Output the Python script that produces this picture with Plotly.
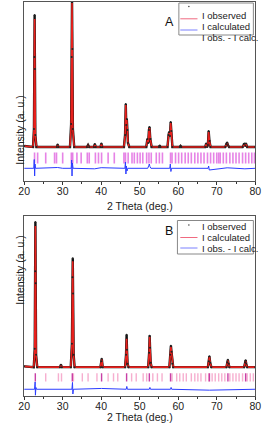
import plotly.graph_objects as go

# ---------------- Panel A data ----------------
tth_A = [20, 22.3, 22.55, 22.65, 22.72, 22.8, 22.9, 23.2, 28.5, 28.7, 28.9, 31.9, 32.2, 32.35, 32.43, 32.52,
         32.65, 33.0, 36.3, 36.6, 36.9, 38.1, 38.35, 38.6, 39.8, 40.05, 40.3, 45.9, 46.2, 46.38, 46.5, 46.65,
         46.8, 46.95, 47.3, 51.7, 52.0, 52.2, 52.4, 52.55, 52.75, 53.1, 55.0, 55.2, 55.4, 57.2, 57.5, 57.65,
         57.85, 58.05, 58.2, 58.5, 60.4, 60.6, 60.8, 67.0, 67.25, 67.5, 67.7, 67.9, 68.1, 68.4, 72.2, 72.5,
         72.7, 72.9, 73.2, 76.7, 77.0, 77.2, 77.4, 77.6, 77.9, 80]
calc_A = [35, 34, 50, 120, 162, 110, 45, 34, 34, 36, 34, 34, 55, 120, 178, 130,
          50, 34, 34, 36, 34, 34, 36.5, 34, 34, 37, 34, 34, 45, 76, 55, 61,
          50, 38, 34, 34, 41, 38, 50, 53, 42, 34, 34, 35.5, 34, 34, 45, 48,
          45, 58, 50, 34, 34, 35, 34, 34, 37, 34, 36, 49, 40, 34, 34, 37,
          38, 36, 34, 34, 36.5, 37, 35, 37, 34, 34]
obs_A = [35, 34, 52, 124, 166, 112, 46, 34, 34, 36.5, 34, 34, 57, 124, 179, 132,
         52, 34, 34, 36, 34, 34, 37, 34, 34, 37.5, 34, 34, 46, 77, 56, 62,
         51, 38, 34, 34, 42, 38, 51, 54, 42, 34, 34, 35.5, 34, 34, 46, 49,
         45, 59, 50, 34, 34, 35, 34, 34, 37.5, 34, 36, 50, 40, 34, 34, 37,
         38.5, 36, 34, 34, 37, 37.5, 35, 37.5, 34, 34]
dx_A = [20, 22.5, 22.62, 22.72, 22.82, 22.95, 28.7, 30, 32.2, 32.33, 32.43, 32.53, 32.7, 38.3, 40,
        46.15, 46.3, 46.42, 46.55, 46.7, 46.9, 52.1, 52.35, 52.5, 52.65, 52.9, 57.8, 57.95, 58.1,
        58.25, 67.75, 67.9, 68.05, 72.7, 77.3, 80]
diff_A = [12.7, 12.7, 21.5, 5, 17, 12.7, 13.5, 12.7, 12.7, 21, 5, 18, 12.7, 12.2, 13.3,
          12.7, 19, 7, 15, 10, 12.7, 12.7, 15.5, 17, 14.5, 12.7, 12.7, 17, 9.5,
          12.7, 12.7, 15, 11, 13.2, 12.2, 12.7]
bragg_A = [22.7, 23.5, 25.6, 27.9, 28.4, 30.0, 32.25, 32.6, 33.7, 34.8, 36.4, 36.9, 38.5, 39.3, 40.1,
           41.8, 43.4, 45.9, 46.3, 47.0, 48.0, 48.6, 49.4, 50.1, 50.8, 51.8, 52.4, 53.0, 54.3, 55.1,
           55.9, 58.0, 58.4, 59.3, 60.1, 60.9, 61.8, 62.6, 63.4, 64.3, 65.1, 65.9, 66.7, 67.6, 68.4,
           69.2, 70.0, 70.5, 70.9, 71.7, 72.5, 73.4, 74.2, 75.0, 75.8, 76.7, 77.5, 78.3, 79.1, 79.8]
bragg_level_A = 23

# ---------------- Panel B data ----------------
tth_B = [20, 22.5, 22.75, 22.85, 22.92, 23.0, 23.1, 23.4, 29.3, 29.55, 29.8, 32.1, 32.4, 32.55, 32.62,
         32.7, 32.85, 33.1, 39.8, 40.05, 40.15, 40.4, 46.2, 46.45, 46.6, 46.7, 46.85, 47.1, 52.2, 52.45,
         52.58, 52.68, 52.85, 53.1, 57.7, 57.95, 58.1, 58.25, 58.45, 58.7, 67.7, 67.95, 68.1, 68.3, 68.6,
         72.5, 72.75, 72.9, 73.05, 73.3, 77.1, 77.35, 77.5, 77.65, 77.9, 80]
calc_B = [29.5, 28.7, 45, 120, 169, 110, 40, 28.7, 28.7, 30.7, 28.7, 28.7, 50, 115, 134,
          100, 40, 28.7, 28.7, 34, 36.7, 28.7, 28.7, 40, 57, 45, 32, 28.7, 28.7, 42,
          59, 48, 33, 28.7, 28.7, 40, 49, 44, 32, 28.7, 28.7, 34, 39, 33, 28.7,
          28.7, 33, 35.7, 32, 28.7, 28.7, 33, 35, 32, 28.7, 28.7]
obs_B = [29.5, 28.7, 47, 124, 173, 112, 41, 28.7, 28.7, 31, 28.7, 28.7, 52, 118, 137,
         102, 41, 28.7, 28.7, 34.5, 37, 28.7, 28.7, 41, 61, 46, 32, 28.7, 28.7, 43,
         60, 48, 33, 28.7, 28.7, 41, 50, 44, 32, 28.7, 28.7, 34.5, 39.5, 33, 28.7,
         28.7, 33.5, 36, 32, 28.7, 28.7, 33.5, 35.5, 32, 28.7, 28.7]
dx_B = [20, 22.7, 22.85, 22.93, 23.05, 23.2, 32.4, 32.55, 32.65, 32.8, 40.1, 46.5, 46.65, 46.8,
        52.5, 52.65, 52.8, 58.0, 58.15, 58.3, 68.1, 72.9, 77.5, 80]
diff_B = [6.7, 6.7, 14, 0.8, 8.5, 6.7, 6.7, 13.5, 2, 6.7, 7.5, 6.7, 9.5, 6.7,
          6.7, 8.5, 6.7, 6.7, 8.5, 6.7, 5.8, 6.0, 6.2, 6.7]
bragg_B1 = [22.9, 32.5, 40.1, 46.6, 52.5, 58.0, 68.1, 72.9, 77.5]
bragg_B2 = [25.6, 28.9, 29.7, 32.8, 35.1, 36.6, 38.9, 41.8, 43.2, 44.3, 47.9, 49.1, 50.9, 51.8,
            53.4, 54.6, 55.8, 58.4, 59.6, 60.4, 61.3, 62.1, 63.4, 64.3, 65.1, 65.9, 67.1, 67.9,
            68.8, 69.6, 70.5, 71.3, 72.1, 73.4, 74.2, 75.0, 75.8, 76.7, 77.9, 78.7, 79.5]
bragg_level_B = 18.5

xticks = [20, 30, 40, 50, 60, 70, 80]

W, H = 267, 430
def px(x):
    return x / W
def py(y):
    return 1 - y / H

FONT = "Liberation Sans, Arial, sans-serif"
RED = "#e8201c"
BLUE = "#2a3cff"

fig = go.Figure()

def add_panel(xa, ya, tth, calc, obs, dx, diff, bragg_sets, level, msize):
    fig.add_trace(go.Scatter(x=tth, y=obs, mode="lines", line=dict(color="#111111", width=2.4),
                             xaxis=xa, yaxis=ya, showlegend=False, hoverinfo="skip"))
    fig.add_trace(go.Scatter(x=tth, y=calc, mode="lines", line=dict(color=RED, width=1.6),
                             xaxis=xa, yaxis=ya, showlegend=False))
    fig.add_trace(go.Scatter(x=tth, y=obs, mode="markers", marker=dict(color="#222222", size=2),
                             xaxis=xa, yaxis=ya, showlegend=False))
    for pos, col, lw in bragg_sets:
        fig.add_trace(go.Scatter(x=pos, y=[level] * len(pos), mode="markers",
                                 marker=dict(symbol="line-ns", size=msize,
                                             line=dict(color=col, width=lw)),
                                 xaxis=xa, yaxis=ya, showlegend=False))
    fig.add_trace(go.Scatter(x=dx, y=diff, mode="lines", line=dict(color=BLUE, width=1),
                             xaxis=xa, yaxis=ya, showlegend=False))

add_panel("x", "y", tth_A, calc_A, obs_A, dx_A, diff_A,
          [(bragg_A, "rgba(222,90,222,0.75)", 1.6)], bragg_level_A, 8)
add_panel("x2", "y2", tth_B, calc_B, obs_B, dx_B, diff_B,
          [(bragg_B2, "rgba(240,120,175,0.6)", 1.4), (bragg_B1, "rgba(190,30,150,0.85)", 1.4)],
          bragg_level_B, 6)

xa_common = dict(range=[20, 80], tickvals=xticks, ticks="outside", ticklen=3, tickwidth=1,
                 tickcolor="#333", showline=True, linecolor="#555", linewidth=1, mirror=True,
                 showgrid=False, zeroline=False, ticklabelstandoff=-3,
                 tickfont=dict(family=FONT, size=10.5, color="#222"),
                 minor=dict(dtick=5, tick0=20, ticks="outside", ticklen=2, tickcolor="#333"))
ya_common = dict(range=[0, 179], showticklabels=False, ticks="", showline=True, linecolor="#555",
                 linewidth=1, mirror=True, showgrid=False, zeroline=False)

fig.update_layout(
    width=W, height=H, margin=dict(l=0, r=0, t=0, b=0),
    paper_bgcolor="white", plot_bgcolor="white", showlegend=False,
    xaxis=dict(domain=[px(19), px(261)], anchor="y", **xa_common),
    yaxis=dict(domain=[py(181), py(2)], anchor="x", **ya_common),
    xaxis2=dict(domain=[px(19), px(261)], anchor="y2", **xa_common),
    yaxis2=dict(domain=[py(396), py(216)], anchor="x2", **ya_common),
)

annotations = []
shapes = []

def texts(panel_label, lab_y, ytitle_y, xtitle_y, box, rows):
    annotations.append(dict(text=panel_label, x=px(171), y=py(lab_y), xref="paper", yref="paper",
                            showarrow=False, font=dict(family=FONT, size=12.5, color="#111")))
    annotations.append(dict(text="Intensity (a. u.)", x=px(5.5), y=py(ytitle_y), xref="paper",
                            yref="paper", showarrow=False, textangle=-90,
                            font=dict(family=FONT, size=10.5, color="#222")))
    annotations.append(dict(text="2 Theta (deg.)", x=px(140), y=py(xtitle_y), xref="paper",
                            yref="paper", showarrow=False, borderpad=0,
                            font=dict(family=FONT, size=10.5, color="#222")))
    x0, y0, x1, y1 = box
    shapes.append(dict(type="rect", xref="paper", yref="paper", x0=px(x0), x1=px(x1),
                       y0=py(y1), y1=py(y0), line=dict(color="#888", width=1),
                       fillcolor="white", layer="above"))
    labels = ["I observed", "I calculated", "I obs. - I calc."]
    for i, (lab, ry) in enumerate(zip(labels, rows)):
        annotations.append(dict(text=lab, x=px(203.5), y=py(ry), xref="paper", yref="paper",
                                xanchor="left", showarrow=False,
                                font=dict(family=FONT, size=9.5, color="#222")))
    shapes.append(dict(type="circle", xref="paper", yref="paper", x0=px(190.8), x1=px(192.2),
                       y0=py(rows[0] - 1.5 + 0.7), y1=py(rows[0] - 1.5 - 0.7),
                       fillcolor="#222", line=dict(width=0), layer="above"))
    shapes.append(dict(type="line", xref="paper", yref="paper", x0=px(182.5), x1=px(200.5),
                       y0=py(rows[1]), y1=py(rows[1]), line=dict(color="#f06a80", width=1),
                       layer="above"))
    shapes.append(dict(type="line", xref="paper", yref="paper", x0=px(182.5), x1=px(200.5),
                       y0=py(rows[2]), y1=py(rows[2]), line=dict(color="#7a80ff", width=1),
                       layer="above"))

texts("A", 13, 94, 206, (181, 3, 259, 35), [8, 18.8, 30])
texts("B", 231, 307, 423.5, (179.5, 220.5, 259, 254), [226.5, 237.5, 248])

fig.update_layout(annotations=annotations, shapes=shapes)
fig.write_html(
    "out.html",
    config={"displayModeBar": False},
    post_script="document.body.style.margin='0';document.body.style.padding='0';"
                "document.documentElement.style.overflow='hidden';",
)
